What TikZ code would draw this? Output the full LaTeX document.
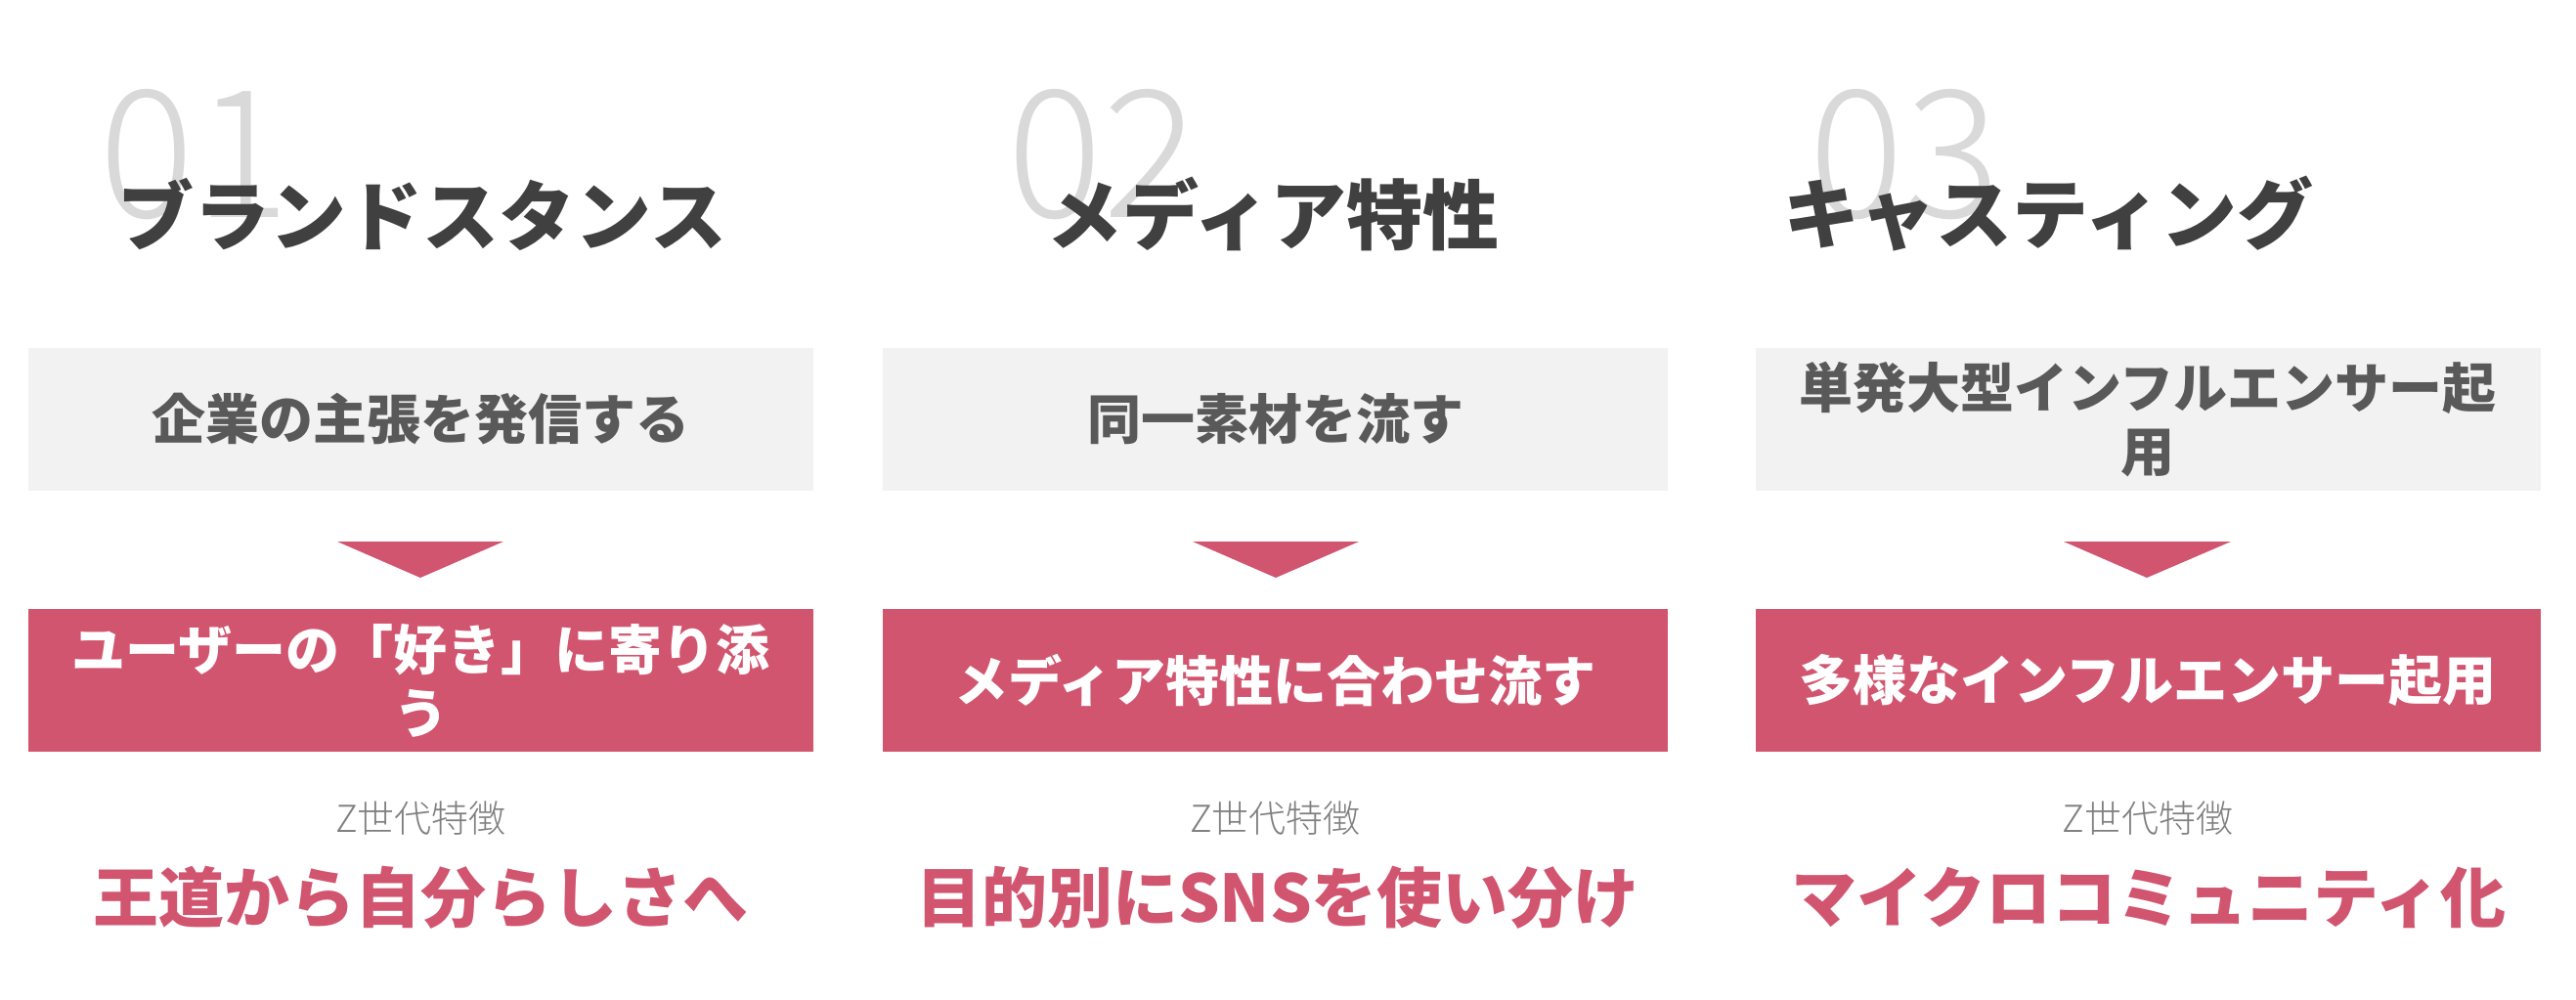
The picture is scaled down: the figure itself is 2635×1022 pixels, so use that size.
\documentclass[tikz,border=0pt]{standalone}
\usepackage{fontspec}
\setmainfont{Noto Sans CJK JP}
\IfFontExistsTF{Noto Sans CJK JP Light}
  {\newfontfamily\thinfont{Noto Sans CJK JP Light}}
  {\newfontfamily\thinfont{Noto Sans CJK JP}}
\usetikzlibrary{positioning}

\definecolor{rosered}{HTML}{D25570}
\definecolor{boxgray}{HTML}{F2F2F2}
\definecolor{textgray}{HTML}{595959}
\definecolor{headgray}{HTML}{404040}
\definecolor{numgray}{HTML}{D9D9D9}
\definecolor{labelgray}{HTML}{7F7F7F}

\newcommand{\headfont}{\bfseries\fontsize{19.5pt}{22pt}\selectfont}
\newcommand{\numfont}{\thinfont\fontsize{45.5pt}{50pt}\selectfont}
\newcommand{\boxfont}{\bfseries\fontsize{13.75pt}{16.25pt}\selectfont}
\newcommand{\labelfont}{\thinfont\fontsize{9.5pt}{11pt}\selectfont}
\newcommand{\keyfont}{\bfseries\fontsize{16.75pt}{19pt}\selectfont}

\begin{document}
\begin{tikzpicture}[line cap=round,line join=round,x=0.25pt,y=-0.25pt,
  graybox/.style={fill=boxgray,text=textgray,minimum width=200.75pt,minimum height=36.5pt,inner sep=0pt,align=center,font=\boxfont},
  pinkbox/.style={fill=rosered,text=white,minimum width=200.75pt,minimum height=36.5pt,inner sep=0pt,align=center,font=\boxfont},
  headtext/.style={anchor=west,inner sep=0pt,text=headgray,font=\headfont},
  numtext/.style={anchor=base west,inner sep=0pt,text=numgray,font=\numfont},
  zlabel/.style={inner sep=0pt,text=labelgray,font=\labelfont},
  keytext/.style={inner sep=0pt,text=rosered,font=\keyfont}]
\useasboundingbox (0,0) rectangle (2635,1022);

\node[numtext] (n1) at (101,222) {01};
\node[numtext] (n2) at (1030,222) {02};
\node[numtext] (n3) at (1850,222) {03};

\node[headtext] (h1) at (120,219) {ブランドスタンス};
\node[headtext] (h2) at (1070,219) {メディア特性};
\node[headtext] (h3) at (1824,219) {キャスティング};

\node[graybox] (g1) at (430.5,429) {企業の主張を発信する};
\node[graybox] (g2) at (1304.5,429) {同一素材を流す};
\node[graybox] (g3) at (2197,429) {単発大型インフルエンサー起\\用};

\fill[rosered] (345,554) -- (515,554) -- (430,591) -- cycle;
\fill[rosered] (1220,554) -- (1390,554) -- (1305,591) -- cycle;
\fill[rosered] (2111,554) -- (2282,554) -- (2196,591) -- cycle;

\node[pinkbox] (p1) at (430.5,696) {ユーザーの「好き」に寄り添\\う};
\node[pinkbox] (p2) at (1304.5,696) {メディア特性に合わせ流す};
\node[pinkbox] (p3) at (2197,696) {多様なインフルエンサー起用};

\node[zlabel] (z1) at (430.5,837) {Z世代特徴};
\node[zlabel] (z2) at (1304.5,837) {Z世代特徴};
\node[zlabel] (z3) at (2197,837) {Z世代特徴};

\node[keytext] (k1) at (430.5,918) {王道から自分らしさへ};
\node[keytext] (k2) at (1307,918) {目的別にSNSを使い分け};
\node[keytext] (k3) at (2198,918) {マイクロコミュニティ化};

\end{tikzpicture}
\end{document}
